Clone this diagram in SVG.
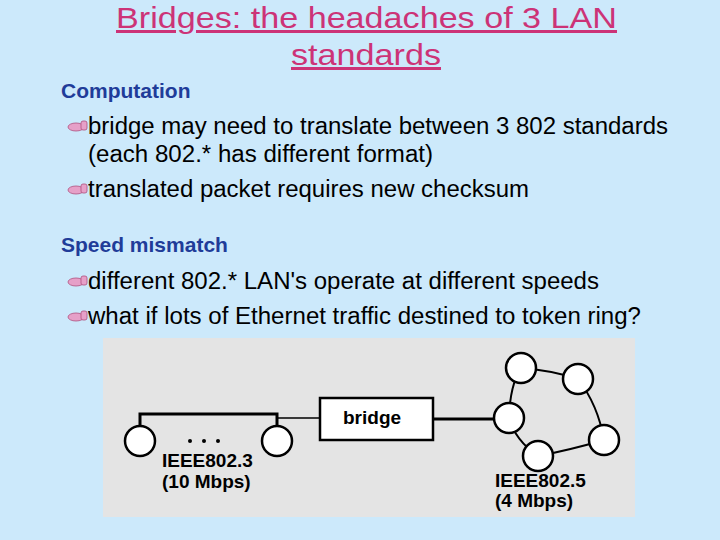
<svg xmlns="http://www.w3.org/2000/svg" width="720" height="540" viewBox="0 0 720 540">
<style>
.t{font-family:"Liberation Sans",Arial,sans-serif}
.title{font-size:30px;fill:#cc3377;text-decoration:underline}
.h{font-size:21px;fill:#1f3c99;font-weight:bold}
.b{font-size:23px;fill:#000}
.n{fill:#fff;stroke:#000;stroke-width:2.5}
.lbl{font-size:19px;font-weight:bold;fill:#000}
.bul{fill:#e6a0c8;stroke:#b0507f;stroke-width:0.8}
</style>
<rect width="720" height="540" fill="#cce9fb"/>
<text class="t title" x="116" y="28" textLength="501" lengthAdjust="spacingAndGlyphs">Bridges: the headaches of 3 LAN</text>
<text class="t title" x="291" y="65" textLength="150" lengthAdjust="spacingAndGlyphs">standards</text>
<text class="t h" x="61" y="98">Computation</text>
<g class="bul"><ellipse cx="76" cy="127" rx="8" ry="4"/><rect x="81" y="121" width="6" height="9" rx="2"/></g>
<text class="t b" x="88" y="134" textLength="580" lengthAdjust="spacingAndGlyphs">bridge may need to translate between 3 802 standards</text>
<text class="t b" x="88" y="162" textLength="345" lengthAdjust="spacingAndGlyphs">(each 802.* has different format)</text>
<g class="bul"><ellipse cx="76" cy="190" rx="8" ry="4"/><rect x="81" y="184" width="6" height="9" rx="2"/></g>
<text class="t b" x="88" y="197" textLength="441" lengthAdjust="spacingAndGlyphs">translated packet requires new checksum</text>
<text class="t h" x="61" y="252">Speed mismatch</text>
<g class="bul"><ellipse cx="76" cy="282" rx="8" ry="4"/><rect x="81" y="276" width="6" height="9" rx="2"/></g>
<text class="t b" x="88" y="289" textLength="511" lengthAdjust="spacingAndGlyphs">different 802.* LAN's operate at different speeds</text>
<g class="bul"><ellipse cx="76" cy="317" rx="8" ry="4"/><rect x="81" y="311" width="6" height="9" rx="2"/></g>
<text class="t b" x="88" y="324" textLength="553" lengthAdjust="spacingAndGlyphs">what if lots of Ethernet traffic destined to token ring?</text>
<rect x="103" y="338" width="532" height="179" fill="#e4e4e4"/>
<g id="connectors" fill="none" stroke="#000">
<path d="M140 441 V414 H277 V441" stroke-width="3"/>
<line x1="277" y1="418" x2="320" y2="418" stroke-width="1.5"/>
<line x1="433" y1="419" x2="495" y2="419" stroke-width="3"/>
<path d="M509 418 Q510 385 521 368 Q550 370 578 379 Q598 405 604 440 Q570 450 538 456 Q515 440 509 418" stroke-width="2"/>
</g>
<g id="bridge"><rect x="320" y="398" width="113" height="42" fill="#fff" stroke="#000" stroke-width="2.5"/><text class="t lbl" x="343" y="424">bridge</text></g>
<g id="ethernet">
<circle class="n" cx="140" cy="441" r="15"/><circle class="n" cx="277" cy="441" r="15"/>
<circle cx="190" cy="441" r="2"/><circle cx="204" cy="441" r="2"/><circle cx="218" cy="441" r="2"/>
<text class="t lbl" x="162" y="467">IEEE802.3</text><text class="t lbl" x="162" y="488">(10 Mbps)</text>
</g>
<g id="ring">
<circle class="n" cx="509" cy="418" r="15"/><circle class="n" cx="521" cy="368" r="15"/><circle class="n" cx="578" cy="379" r="15"/><circle class="n" cx="604" cy="440" r="15"/><circle class="n" cx="538" cy="456" r="15"/>
<text class="t lbl" x="495" y="487">IEEE802.5</text><text class="t lbl" x="495" y="507">(4 Mbps)</text>
</g>
</svg>
